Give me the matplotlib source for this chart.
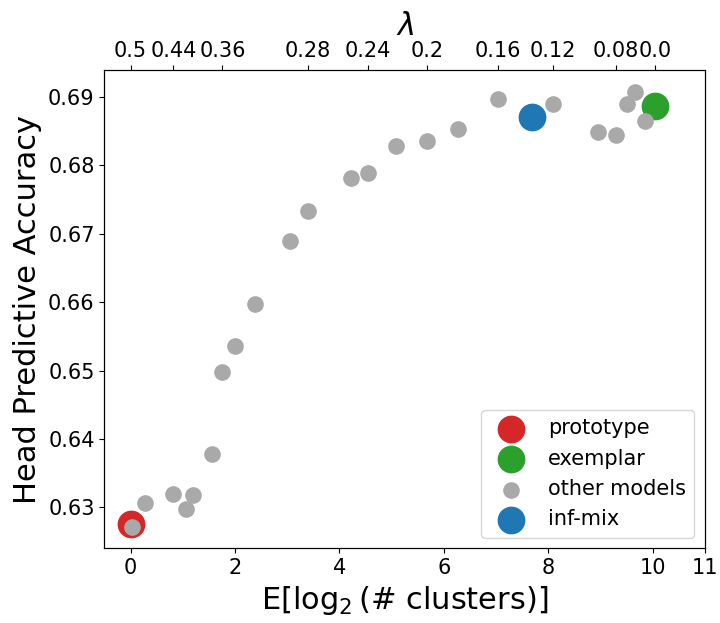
import numpy as np
import matplotlib
matplotlib.use('Agg')
import matplotlib.pyplot as plt

# values
proto_x, proto_y = [0.0], [0.6275]
exemplar_x, exemplar_y = [10.04], [0.6887]
infmix_x, infmix_y = [7.69], [0.6870]

other_x = [0.03, 0.27, 0.82, 1.07, 1.20, 1.55, 1.76, 2.00, 2.39, 3.06, 3.40,
           4.23, 4.55, 5.09, 5.68, 6.28, 7.04, 8.09, 8.95, 9.29, 9.50, 9.67, 9.85]
other_y = [0.6272, 0.6306, 0.6319, 0.6297, 0.6318, 0.6378, 0.6498, 0.6536, 0.6598,
           0.6690, 0.6733, 0.6782, 0.6789, 0.6828, 0.6835, 0.6853, 0.6897, 0.6889,
           0.6848, 0.6845, 0.6889, 0.6907, 0.6865]

# top axis: lambda values at the matching models
lam_pos = [0.0, 0.82, 1.76, 3.40, 4.55, 5.68, 7.04, 8.09, 9.29, 10.04]
lam_labels = ['0.5', '0.44', '0.36', '0.28', '0.24', '0.2', '0.16', '0.12', '0.08', '0.0']

xticks = [0, 2, 4, 6, 8, 10, 11]

fig, ax = plt.subplots(figsize=(7.2, 6.23), dpi=100)
fig.subplots_adjust(left=0.145, right=0.979, top=0.887, bottom=0.12)

ax.scatter(proto_x, proto_y, s=360, color='#d62728', label='prototype')
ax.scatter(exemplar_x, exemplar_y, s=360, color='#2ca02c', label='exemplar')
ax.scatter(other_x, other_y, s=120, color='darkgray', label='other models')
ax.scatter(infmix_x, infmix_y, s=360, color='#1f77b4', label='inf-mix')

ax.set_xticks(xticks)
ax.tick_params(axis='both', which='major', labelsize=15)
ax.set_xlabel(r'E[$\log_2$(# clusters)]', fontsize=22)
ax.set_ylabel('Head Predictive Accuracy', fontsize=22)
ax.legend(loc='lower right', fontsize=15)

ax2 = ax.twiny()
ax2.set_xlim(ax.get_xlim())
ax2.set_xticks(lam_pos)
ax2.set_xticklabels(lam_labels)
ax2.tick_params(axis='x', labelsize=15)
ax2.set_xlabel(r'$\lambda$', fontsize=22)

plt.savefig('out.png', dpi=100)
